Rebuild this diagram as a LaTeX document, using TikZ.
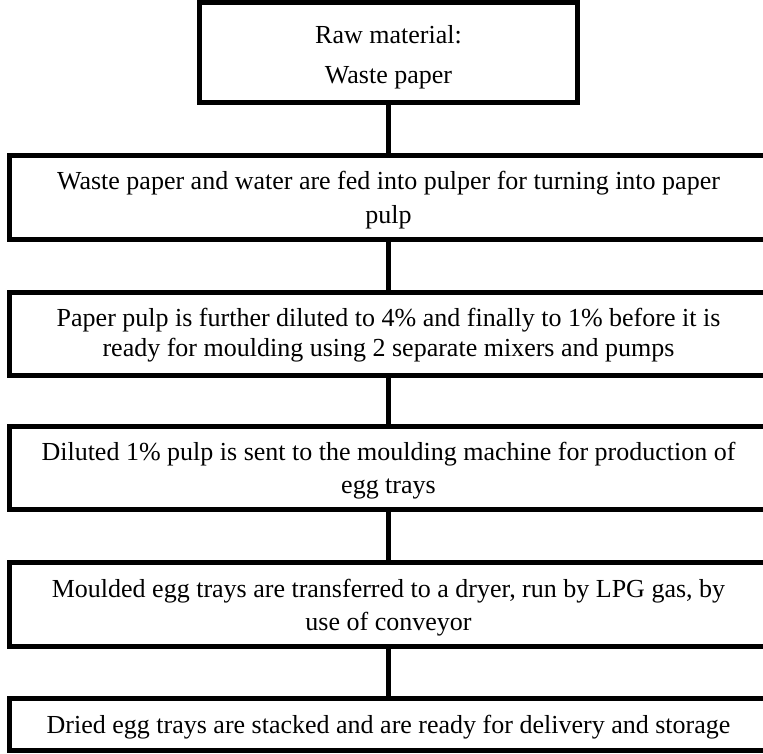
\documentclass[tikz,border=0pt]{standalone}
\usepackage{fontspec}
\setmainfont{Liberation Serif}
\begin{document}
\begin{tikzpicture}[x=1pt,y=-1pt,
  stepbox/.style={draw=black, line width=5pt, inner sep=0pt, minimum width=758pt},
  steptext/.style={align=center, inner sep=0pt, yshift=-3.5pt,
    font=\fontsize{26}{33}\selectfont},
  link/.style={draw=black, line width=4.5pt}]
\useasboundingbox (0,0) rectangle (763,753);
\clip (0,0) rectangle (763,753);
\fill[white] (0,0) rectangle (763,753);
\node[stepbox, minimum width=378pt, minimum height=100pt,
  label={[steptext, yshift=-1.5pt, font=\fontsize{26}{40}\selectfont]center:{Raw material:\\Waste paper}}] (b1) at (388.5,52) {};
\node[stepbox, minimum height=84pt,
  label={[steptext]center:{Waste paper and water are fed into pulper for turning into paper\\[1pt]pulp}}] (b2) at (388.5,197) {};
\node[stepbox, minimum height=83pt,
  label={[steptext, yshift=1.5pt]center:{Paper pulp is further diluted to 4\% and finally to 1\% before it is\\[-3pt]ready for moulding using 2 separate mixers and pumps}}] (b3) at (388.5,333.5) {};
\node[stepbox, minimum height=83pt,
  label={[steptext]center:{Diluted 1\% pulp is sent to the moulding machine for production of\\egg trays}}] (b4) at (388.5,467.5) {};
\node[stepbox, minimum height=84pt,
  label={[steptext]center:{Moulded egg trays are transferred to a dryer, run by LPG gas, by\\use of conveyor}}] (b5) at (388.5,604) {};
\node[stepbox, minimum height=52pt,
  label={[steptext]center:{Dried egg trays are stacked and are ready for delivery and storage}}] (b6) at (388.5,724) {};
\draw[link] (b1.south) -- (b2.north);
\draw[link] (b2.south) -- (b3.north);
\draw[link] (b3.south) -- (b4.north);
\draw[link] (b4.south) -- (b5.north);
\draw[link] (b5.south) -- (b6.north);
\end{tikzpicture}
\end{document}
